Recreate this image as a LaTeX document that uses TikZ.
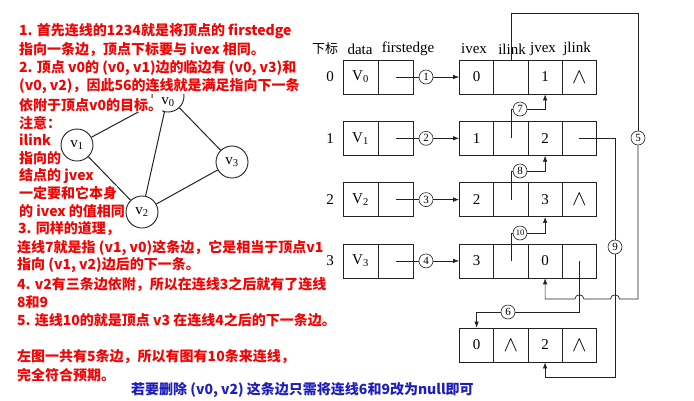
\documentclass[tikz,border=0pt]{standalone}
\usepackage{fontspec}
\setmainfont{Liberation Serif}
\newfontfamily\cjk{Noto Sans CJK SC}
\usetikzlibrary{arrows.meta}
\definecolor{myred}{RGB}{240,5,5}
\definecolor{myblue}{RGB}{30,30,190}
\definecolor{ln}{RGB}{35,35,35}
\newcommand{\nullsym}{\scalebox{1.5}{$\wedge$}}
\tikzset{
  cell/.style={draw=ln, line width=0.7pt, minimum width=34.25pt, minimum height=34pt, inner sep=0pt, font=\fontsize{15}{15}\selectfont},
  vcell/.style={cell, minimum width=35pt},
  num/.style={circle, draw=ln, line width=0.6pt, inner sep=0pt, minimum size=14pt, font=\fontsize{11}{11}\selectfont},
  gnode/.style={circle, draw=ln, line width=0.9pt, minimum size=32pt, inner sep=0pt, font=\fontsize{15}{15}\selectfont},
  glabel/.style={inner sep=0pt, font=\fontsize{15}{15}\selectfont},
  gedge/.style={draw=ln, line width=1pt},
  hdr/.style={font=\fontsize{15}{15}\selectfont, inner sep=0pt},
  conn/.style={draw=ln, line width=0.7pt},
  arr/.style={conn, -{Latex[length=6pt,width=4.5pt]}},
  redtxt/.style={anchor=west, text=myred, fill=white, inner sep=0pt, font=\cjk\bfseries\fontsize{14}{14}\selectfont},
}
\begin{document}
\begin{tikzpicture}[x=1pt, y=-1pt]
\useasboundingbox[fill=white] (0,0) rectangle (694,400);

% ---------- graph ----------
\node[gnode] (g0) at (168,96) {};
\node[gnode] (g1) at (77,145) {v\textsubscript{1}};
\node[gnode] (g2) at (142,212) {v\textsubscript{2}};
\node[gnode] (g3) at (232,162) {v\textsubscript{3}};
\draw[gedge] (g0) -- (g1);
\draw[gedge] (g0) -- (g2);
\draw[gedge] (g0) -- (g3);
\draw[gedge] (g1) -- (g2);
\draw[gedge] (g2) -- (g3);

% ---------- red explanation ----------
\node[redtxt] (t1) at (19,31.5) {1. 首先连线的1234就是将顶点的 firstedge};
\node[redtxt] (t2) at (19,50) {指向一条边，顶点下标要与 ivex 相同。};
\node[redtxt] (t3) at (19,68) {2. 顶点 v0的 (v0, v1)边的临边有 (v0, v3)和};
\node[redtxt] (t4) at (19,86) {(v0, v2)，因此56的连线就是满足指向下一条};
\node[redtxt] (t5) at (19,105) {依附于顶点v0的目标。};
\node[redtxt] (t6) at (19,123) {注意：};
\node[redtxt] (t7) at (19,140) {ilink};
\node[redtxt] (t8) at (19,158) {指向的};
\node[redtxt] (t9) at (19,176) {结点的 jvex};
\node[redtxt] (t10) at (19,193) {一定要和它本身};
\node[redtxt] (t11) at (19,211) {的 ivex 的值相同};
\node[redtxt] (t12) at (18,229) {3. 同样的道理，};
\node[redtxt] (t13) at (17,248) {连线7就是指 (v1, v0)这条边，它是相当于顶点v1};
\node[redtxt] (t14) at (17,265) {指向 (v1, v2)边后的下一条。};
\node[redtxt] (t15) at (17,284) {4. v2有三条边依附，所以在连线3之后就有了连线};
\node[redtxt] (t16) at (17,302) {8和9};
\node[redtxt] (t17) at (17,320) {5. 连线10的就是顶点 v3 在连线4之后的下一条边。};
\node[redtxt] (t18) at (17,357) {左图一共有5条边，所以有图有10条来连线，};
\node[redtxt] (t19) at (17,375) {完全符合预期。};
\node[redtxt, text=myblue] (t20) at (131,390) {若要删除 (v0, v2) 这条边只需将连线6和9改为null即可};

% label of v0 (drawn above the text backgrounds)
\node[glabel] (g0l) at (168,102.5) {v\textsubscript{0}};

% ---------- headers ----------
\node[hdr, font=\cjk\fontsize{13}{13}\selectfont] (h0) at (325,49) {下标};
\node[hdr] (h1) at (360,49) {data};
\node[hdr] (h2) at (408,49) {firstedge};
\node[hdr] (h3) at (474,49) {ivex};
\node[hdr] (h4) at (512,49) {ilink};
\node[hdr] (h5) at (543,49) {jvex};
\node[hdr] (h6) at (577,49) {jlink};

% ---------- rows ----------
% row 0
\node[hdr] (r0) at (330,77) {0};
\node[vcell] (v0a) at (360.5,77) {V\textsubscript{0}};
\node[vcell] (v0b) at (395.5,77) {};
\node[cell] (e0a) at (476.6,77) {0};
\node[cell] (e0b) at (510.9,77) {};
\node[cell] (e0c) at (545.1,77) {1};
\node[cell] (e0d) at (579.4,77) {\nullsym};
% row 1
\node[hdr] (r1) at (330,138.3) {1};
\node[vcell] (v1a) at (360.5,138.3) {V\textsubscript{1}};
\node[vcell] (v1b) at (395.5,138.3) {};
\node[cell] (e1a) at (476.6,138.3) {1};
\node[cell] (e1b) at (510.9,138.3) {};
\node[cell] (e1c) at (545.1,138.3) {2};
\node[cell] (e1d) at (579.4,138.3) {};
% row 2
\node[hdr] (r2) at (330,199.6) {2};
\node[vcell] (v2a) at (360.5,199.6) {V\textsubscript{2}};
\node[vcell] (v2b) at (395.5,199.6) {};
\node[cell] (e2a) at (476.6,199.6) {2};
\node[cell] (e2b) at (510.9,199.6) {};
\node[cell] (e2c) at (545.1,199.6) {3};
\node[cell] (e2d) at (579.4,199.6) {\nullsym};
% row 3
\node[hdr] (r3) at (330,260.9) {3};
\node[vcell] (v3a) at (360.5,260.9) {V\textsubscript{3}};
\node[vcell] (v3b) at (395.5,260.9) {};
\node[cell] (e3a) at (476.6,260.9) {3};
\node[cell] (e3b) at (510.9,260.9) {};
\node[cell] (e3c) at (545.1,260.9) {0};
\node[cell] (e3d) at (579.4,260.9) {};
% bottom edge
\node[cell] (b0a) at (476.6,345) {0};
\node[cell] (b0b) at (510.9,345) {\nullsym};
\node[cell] (b0c) at (545.1,345) {2};
\node[cell] (b0d) at (579.4,345) {\nullsym};

% ---------- numbered circles ----------
\node[num] (c1) at (426,77) {1};
\node[num] (c2) at (426,138.3) {2};
\node[num] (c3) at (426,199.6) {3};
\node[num] (c4) at (426,260.9) {4};
\node[num] (c5) at (638,138) {5};
\node[num] (c6) at (508,312) {6};
\node[num] (c7) at (520,109) {7};
\node[num] (c8) at (520,171) {8};
\node[num] (c9) at (615,247) {9};
\node[num, font=\fontsize{8.5}{8.5}\selectfont] (c10) at (520,233) {10};

% ---------- connectors ----------
\draw[conn] (v0b.center) -- (c1.west);
\draw[arr] (c1.east) -- (e0a.west);
\draw[conn] (v1b.center) -- (c2.west);
\draw[arr] (c2.east) -- (e1a.west);
\draw[conn] (v2b.center) -- (c3.west);
\draw[arr] (c3.east) -- (e2a.west);
\draw[conn] (v3b.center) -- (c4.west);
\draw[arr] (c4.east) -- (e3a.west);

% 7, 8, 10
\draw[conn] (e1b.center) |- (c7.west);
\draw[arr] (c7.east) -| (e0c.south);
\draw[conn] (e2b.center) |- (c8.west);
\draw[arr] (c8.east) -| (e1c.south);
\draw[conn] (e3b.center) |- (c10.west);
\draw[arr] (c10.east) -| (e2c.south);

% 5
\coordinate (k5) at (510.9,13);
\draw[conn] (e0b.north) -- (k5) -| (c5.north);
\draw[arr] (c5.south) -- (638,299) -- (619.5,299)
  .. controls (619.5,293.5) and (610.5,293.5) .. (610.5,299) -- (583.9,299)
  .. controls (583.9,293.5) and (574.9,293.5) .. (574.9,299) -- (545.1,299) -- (e3c.south);

% 9
\draw[conn] (e1d.center) -| (c9.north);
\draw[arr] (c9.south) -- (615,377) -| (b0c.south);

% 6
\draw[conn] (e3d.center) |- (c6.east);
\draw[arr] (c6.west) -| (b0a.north);
\end{tikzpicture}
\end{document}
